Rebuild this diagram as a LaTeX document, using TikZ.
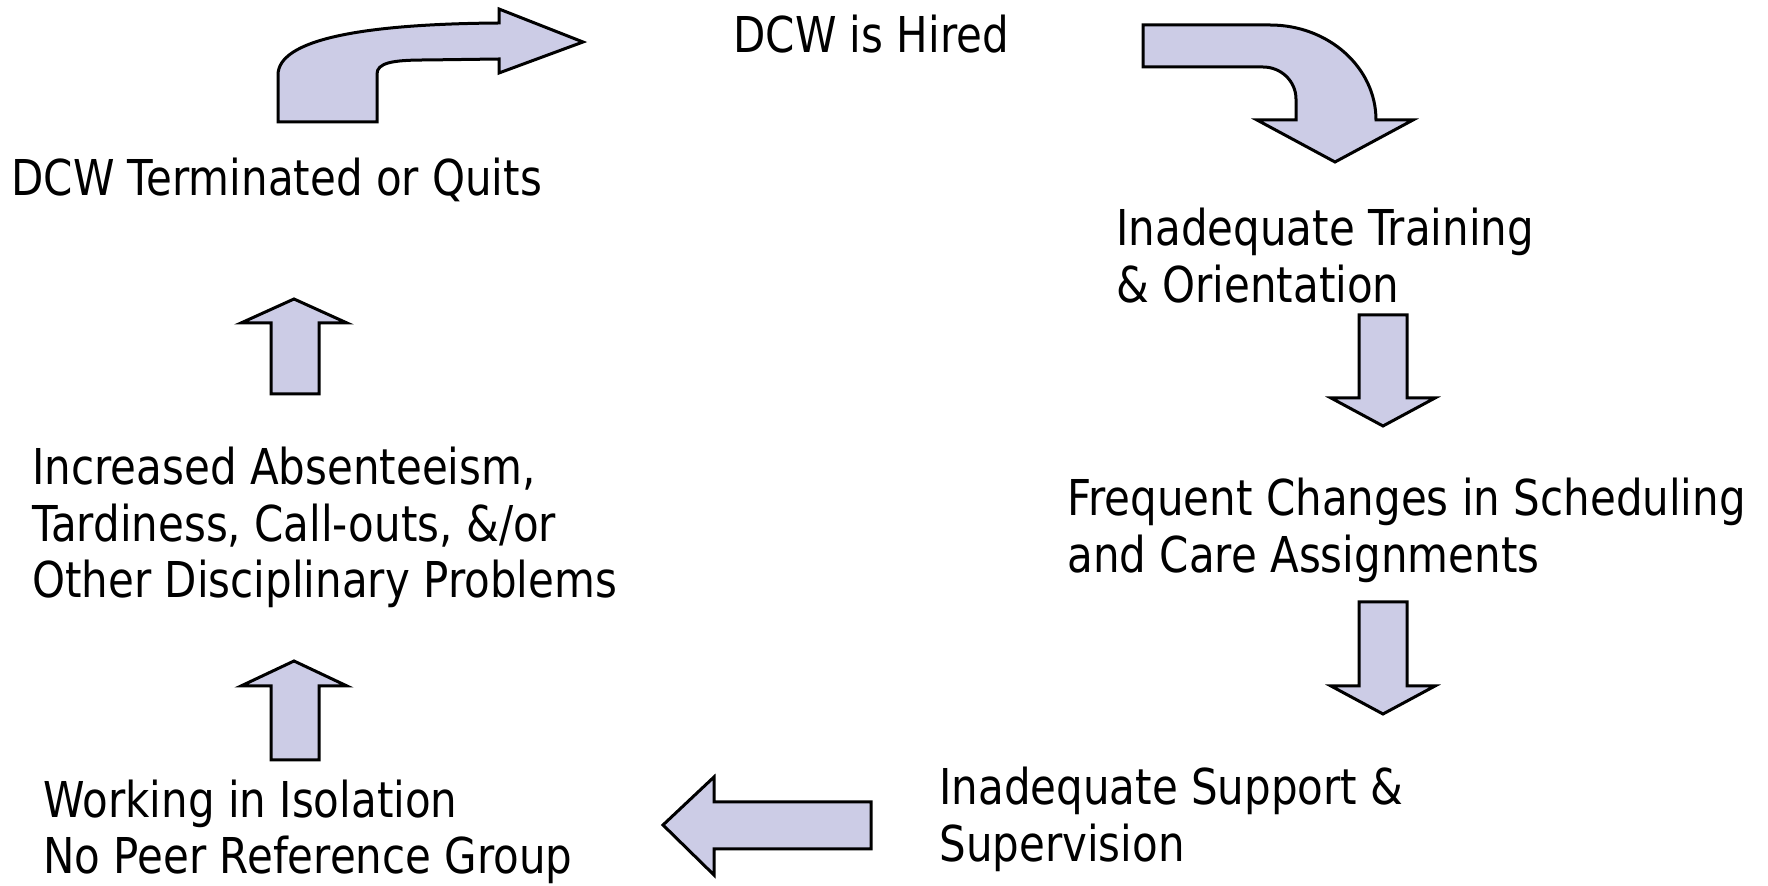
\documentclass[tikz,border=0pt]{standalone}
\usepackage{fontspec}
\setmainfont{DejaVu Sans}[FakeStretch=0.85]
\definecolor{arrowfill}{RGB}{204,204,230}
\tikzset{
  lbl/.style={anchor=base west, inner sep=0pt, align=left,
              font=\fontsize{24.7pt}{28.25pt}\selectfont},
  blk/.style={fill=arrowfill, draw=black, line width=1.5pt, line join=miter}
}
\begin{document}
\begin{tikzpicture}[x=0.5pt,y=-0.5pt]
\useasboundingbox (0,0) rectangle (1768,886);

% stages of the cycle (base anchor = baseline of the last line)
\node[lbl] (hired) at (733,53) {DCW is Hired};
\node[lbl] (train) at (1116,302.5) {Inadequate Training\\\& Orientation};
\node[lbl] (sched) at (1067,572.5) {Frequent Changes in Scheduling\\and Care Assignments};
\node[lbl] (supp)  at (939,861.5) {Inadequate Support \&\\Supervision};
\node[lbl] (iso)   at (43,874) {Working in Isolation\\No Peer Reference Group};
\node[lbl] (absent) at (32,598) {Increased Absenteeism,\\Tardiness, Call-outs, \&/or\\Other Disciplinary Problems};
\node[lbl] (quit)  at (11,196) {DCW Terminated or Quits};

% curved arrow: terminated -> hired
\draw[blk] (278,122) -- (377,122) -- (377,74)
  .. controls (377,63) and (392,60) .. (425,60) -- (499,59)
  -- (499,73) -- (583,42) -- (499,9) -- (499,23)
  .. controls (360,24) and (278,40) .. (278,75) -- cycle;

% curved arrow: hired -> training
\draw[blk] (1143,25) -- (1270,25)
  .. controls (1328.5,25) and (1376,67.5) .. (1376,120)
  -- (1413,120) -- (1335,162) -- (1257,120) -- (1296,120) -- (1296,99)
  .. controls (1296,81.3) and (1281.2,67) .. (1263,67)
  -- (1143,67) -- cycle;

% down arrows on the right
\draw[blk] (1359,315) -- (1407,315) -- (1407,398) -- (1435,398)
  -- (1383,426) -- (1331,398) -- (1359,398) -- cycle;
\draw[blk] (1359,602) -- (1407,602) -- (1407,686) -- (1435,686)
  -- (1383,714) -- (1331,686) -- (1359,686) -- cycle;

% left arrow along the bottom
\draw[blk] (871,802) -- (714,802) -- (714,777) -- (663,825)
  -- (714,875) -- (714,849) -- (871,849) -- cycle;

% up arrows on the left
\draw[blk] (271,394) -- (271,323) -- (241,323) -- (294,299)
  -- (347,323) -- (319,323) -- (319,394) -- cycle;
\draw[blk] (271,760) -- (271,686) -- (241,686) -- (294,661)
  -- (347,686) -- (319,686) -- (319,760) -- cycle;
\end{tikzpicture}
\end{document}
